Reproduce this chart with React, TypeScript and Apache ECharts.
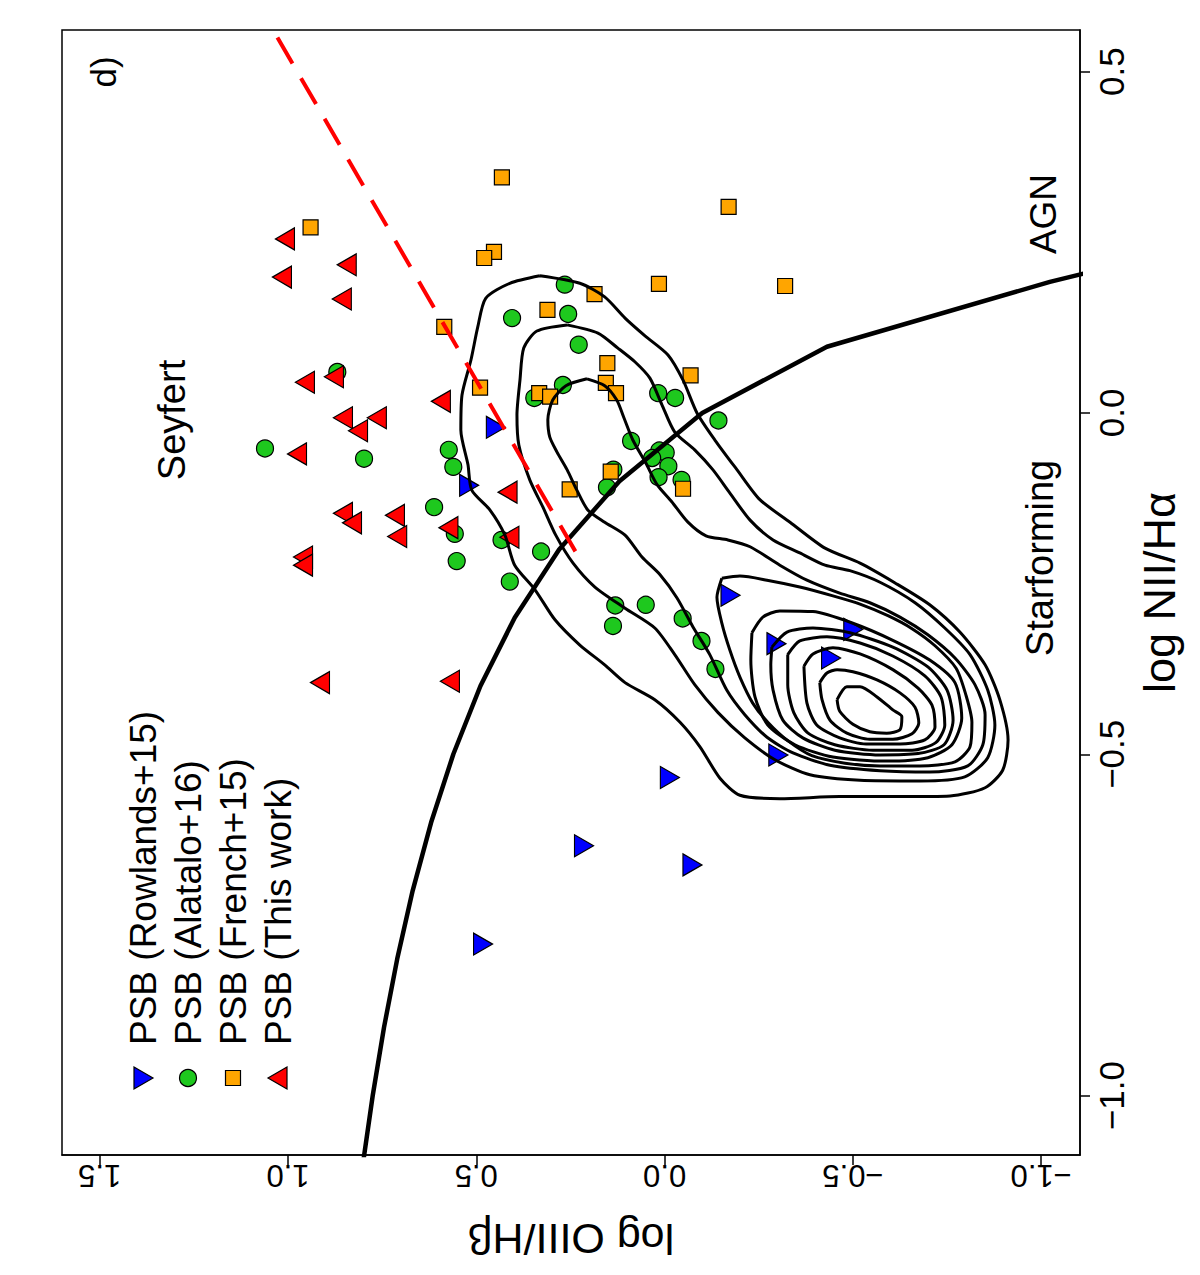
import React, { useEffect, useRef } from "react";
import * as echarts from "echarts";

const FONT = "'Liberation Sans', Arial, Helvetica, sans-serif";

// Axis ranges and ticks
const NII_MIN = -1.087;
const NII_MAX = 0.561;
const OIII_MIN = -1.103;
const OIII_MAX = 1.6;
const NII_TICKS = [-1, -0.5, 0, 0.5];
const OIII_TICKS = [-1, -0.5, 0, 0.5, 1, 1.5];

// Points: [log NII/Halpha, log OIII/Hbeta]
const rowlands = [
  [-0.021, 0.448], [-0.106, 0.519], [-0.267, -0.175], [-0.317, -0.501], [-0.338, -0.297],
  [-0.359, -0.442], [-0.501, -0.302], [-0.534, -0.014], [-0.634, 0.214], [-0.662, -0.074],
  [-0.778, 0.482],
];
const alatalo = [
  [-0.052, 1.061], [0.06, 0.869], [-0.067, 0.798], [-0.054, 0.573], [-0.079, 0.561],
  [-0.138, 0.612], [-0.177, 0.557], [-0.217, 0.552], [-0.186, 0.433], [-0.247, 0.411],
  [-0.203, 0.328], [0.139, 0.405], [0.188, 0.265], [0.145, 0.256], [0.1, 0.228],
  [0.041, 0.27], [0.022, 0.346], [0.029, 0.017], [0.022, -0.028], [-0.011, -0.143],
  [-0.041, 0.089], [-0.055, 0.014], [-0.058, -0.003], [-0.066, 0.033], [-0.078, -0.01],
  [-0.094, 0.016], [-0.098, -0.045], [-0.083, 0.136], [-0.109, 0.153], [-0.282, 0.131],
  [-0.281, 0.05], [-0.312, 0.137], [-0.301, -0.048], [-0.334, -0.098], [-0.375, -0.135],
];
const french = [
  [0.345, 0.432], [0.272, 0.94], [0.236, 0.453], [0.227, 0.479], [0.126, 0.585],
  [0.037, 0.49], [0.029, 0.333], [0.024, 0.304], [0.151, 0.311], [0.174, 0.186],
  [0.189, 0.015], [0.186, -0.32], [0.302, -0.17], [0.073, 0.152], [0.044, 0.156],
  [0.029, 0.129], [0.055, -0.069], [-0.086, 0.143], [-0.112, 0.252], [-0.111, -0.049],
];
const thisWork = [
  [0.255, 1.008], [0.199, 1.016], [0.217, 0.844], [0.167, 0.857], [0.045, 0.955],
  [0.053, 0.878], [0.017, 0.594], [-0.007, 0.854], [-0.007, 0.764], [-0.026, 0.814],
  [-0.06, 0.976], [-0.116, 0.417], [-0.147, 0.854], [-0.161, 0.83], [-0.15, 0.716],
  [-0.181, 0.71], [-0.168, 0.574], [-0.182, 0.412], [-0.211, 0.96], [-0.223, 0.96],
  [-0.395, 0.915], [-0.393, 0.57],
];

// Demarcation lines: [log NII/Halpha, log OIII/Hbeta]
const kewleyLine = [
  [-1.1, 0.801], [-1.0, 0.775], [-0.9, 0.745], [-0.8, 0.71], [-0.7, 0.669], [-0.6, 0.62],
  [-0.5, 0.561], [-0.4, 0.489], [-0.3, 0.398], [-0.2, 0.28], [-0.1, 0.12], [0.0, -0.1],
  [0.097, -0.431], [0.192, -1.023], [0.21, -1.156],
];
const seyfertLinerLine = [[0.55, 1.028], [-0.215, 0.224]];

// Density contours: [log NII/Halpha, log OIII/Hbeta]
const contour1 = [
  [0.201, 0.331], [0.19, 0.411], [0.168, 0.475], [0.126, 0.496], [0.078, 0.514], [0.026, 0.538],
  [-0.025, 0.541], [-0.076, 0.522], [-0.113, 0.512], [-0.142, 0.464], [-0.179, 0.424], [-0.223, 0.398],
  [-0.259, 0.344], [-0.303, 0.291], [-0.34, 0.225], [-0.369, 0.159], [-0.395, 0.105], [-0.42, 0.026],
  [-0.453, -0.041], [-0.489, -0.094], [-0.535, -0.147], [-0.56, -0.2], [-0.565, -0.306], [-0.562, -0.465],
  [-0.562, -0.625], [-0.561, -0.758], [-0.549, -0.851], [-0.523, -0.898], [-0.479, -0.912], [-0.42, -0.89],
  [-0.369, -0.851], [-0.321, -0.784], [-0.281, -0.704], [-0.249, -0.612], [-0.22, -0.519], [-0.198, -0.426],
  [-0.16, -0.333], [-0.127, -0.253], [-0.083, -0.192], [-0.04, -0.134], [0.0, -0.086], [0.048, -0.049],
  [0.085, -0.009], [0.113, 0.052], [0.139, 0.105], [0.17, 0.159], [0.19, 0.225], [0.201, 0.331],
];
const contour2 = [
  [0.129, 0.259], [0.12, 0.339], [0.095, 0.374], [0.048, 0.384], [-0.003, 0.392], [-0.047, 0.387],
  [-0.098, 0.358], [-0.138, 0.323], [-0.179, 0.289], [-0.22, 0.243], [-0.255, 0.185], [-0.286, 0.105],
  [-0.315, 0.026], [-0.354, -0.027], [-0.398, -0.08], [-0.439, -0.142], [-0.476, -0.213], [-0.508, -0.293],
  [-0.53, -0.386], [-0.538, -0.519], [-0.539, -0.678], [-0.533, -0.797], [-0.505, -0.858], [-0.457, -0.877],
  [-0.406, -0.858], [-0.354, -0.811], [-0.315, -0.744], [-0.278, -0.665], [-0.248, -0.572], [-0.231, -0.492],
  [-0.223, -0.426], [-0.205, -0.359], [-0.186, -0.288], [-0.157, -0.227], [-0.117, -0.173], [-0.083, -0.128],
  [-0.054, -0.08], [-0.028, -0.027], [0.012, 0.007], [0.051, 0.039], [0.075, 0.079], [0.095, 0.124],
  [0.117, 0.177], [0.129, 0.259],
];
const contour3 = [
  [0.05, 0.206], [0.04, 0.262], [0.019, 0.297], [-0.01, 0.31], [-0.035, 0.305], [-0.057, 0.286],
  [-0.083, 0.259], [-0.113, 0.233], [-0.142, 0.204], [-0.16, 0.159], [-0.179, 0.105], [-0.211, 0.06],
  [-0.237, 0.012], [-0.271, -0.033], [-0.313, -0.075], [-0.354, -0.12], [-0.406, -0.165], [-0.442, -0.213],
  [-0.475, -0.272], [-0.498, -0.341], [-0.516, -0.439], [-0.524, -0.572], [-0.526, -0.704], [-0.517, -0.805],
  [-0.486, -0.845], [-0.442, -0.851], [-0.398, -0.824], [-0.359, -0.771], [-0.325, -0.699], [-0.299, -0.625],
  [-0.278, -0.545], [-0.264, -0.465], [-0.245, -0.378], [-0.223, -0.306], [-0.196, -0.227], [-0.186, -0.168],
  [-0.18, -0.11], [-0.16, -0.062], [-0.13, -0.019], [-0.105, 0.02], [-0.073, 0.05], [-0.04, 0.084],
  [-0.007, 0.108], [0.019, 0.127], [0.04, 0.159], [0.05, 0.206],
];
const contour4 = [
  [-0.242, -0.152], [-0.27, -0.139], [-0.308, -0.152], [-0.347, -0.173], [-0.387, -0.2], [-0.425, -0.234],
  [-0.453, -0.274], [-0.48, -0.327], [-0.502, -0.391], [-0.513, -0.479], [-0.517, -0.572], [-0.517, -0.678],
  [-0.511, -0.771], [-0.489, -0.811], [-0.453, -0.816], [-0.413, -0.8], [-0.374, -0.774], [-0.341, -0.718],
  [-0.316, -0.657], [-0.297, -0.593], [-0.28, -0.519], [-0.268, -0.447], [-0.255, -0.359], [-0.245, -0.272],
  [-0.239, -0.2], [-0.242, -0.152],
];
const contour5 = [
  [-0.322, -0.232], [-0.299, -0.261], [-0.29, -0.306], [-0.291, -0.394], [-0.308, -0.5], [-0.333, -0.606],
  [-0.362, -0.704], [-0.395, -0.771], [-0.447, -0.789], [-0.486, -0.763], [-0.505, -0.699], [-0.51, -0.588],
  [-0.504, -0.447], [-0.486, -0.346], [-0.457, -0.274], [-0.416, -0.24], [-0.362, -0.229], [-0.322, -0.232],
];
const contour6 = [
  [-0.343, -0.285], [-0.321, -0.325], [-0.315, -0.394], [-0.322, -0.492], [-0.343, -0.606], [-0.372, -0.699],
  [-0.406, -0.75], [-0.45, -0.766], [-0.486, -0.742], [-0.499, -0.673], [-0.501, -0.572], [-0.494, -0.452],
  [-0.476, -0.367], [-0.45, -0.314], [-0.406, -0.288], [-0.369, -0.282], [-0.343, -0.285],
];
const contour7 = [
  [-0.354, -0.327], [-0.334, -0.359], [-0.328, -0.431], [-0.337, -0.519], [-0.356, -0.606], [-0.385, -0.691],
  [-0.416, -0.734], [-0.457, -0.744], [-0.483, -0.72], [-0.494, -0.657], [-0.494, -0.553], [-0.486, -0.452],
  [-0.469, -0.381], [-0.439, -0.343], [-0.398, -0.327], [-0.354, -0.327],
];
const contour8 = [
  [-0.371, -0.37], [-0.353, -0.394], [-0.344, -0.447], [-0.353, -0.519], [-0.376, -0.606], [-0.403, -0.673],
  [-0.428, -0.71], [-0.46, -0.718], [-0.479, -0.691], [-0.485, -0.625], [-0.485, -0.535], [-0.476, -0.465],
  [-0.457, -0.404], [-0.425, -0.378], [-0.371, -0.37],
];
const contour9 = [
  [-0.395, -0.412], [-0.381, -0.431], [-0.376, -0.458], [-0.379, -0.5], [-0.391, -0.564], [-0.41, -0.625],
  [-0.431, -0.665], [-0.454, -0.675], [-0.47, -0.657], [-0.478, -0.606], [-0.478, -0.545], [-0.469, -0.484],
  [-0.45, -0.439], [-0.42, -0.418], [-0.395, -0.412],
];
const contour10 = [
  [-0.42, -0.458], [-0.401, -0.484], [-0.401, -0.519], [-0.416, -0.564], [-0.435, -0.606], [-0.445, -0.63],
  [-0.464, -0.625], [-0.469, -0.59], [-0.467, -0.545], [-0.456, -0.5], [-0.437, -0.465], [-0.42, -0.458],
];
const contours = [contour1, contour2, contour3, contour4, contour5, contour6, contour7, contour8, contour9, contour10];

const legendNames = ["PSB (Rowlands+15)", "PSB (Alatalo+16)", "PSB (French+15)", "PSB (This work)"];
const colors = { blue: "#0000FF", green: "#1EC81E", orange: "#FFA500", red: "#FF0000" };

const RIGHT_TRI = "path://M0,0L19,11L0,22Z";
const LEFT_TRI = "path://M19,0L0,11L19,22Z";

// swap to [OIII, NII] since OIII runs along the horizontal axis in this rotated figure
const toXY = (pts: number[][]) => pts.map((p) => [p[1], p[0]]);
const fmt = (v: number) => (v < 0 ? "\u2212" : "") + Math.abs(v).toFixed(1);

export default function App() {
  const ref = useRef<HTMLDivElement>(null);

  useEffect(() => {
    if (!ref.current) return;
    const chart = echarts.init(ref.current, null, { renderer: "svg" });

    const scatterBase = {
      type: "scatter",
      z: 2,
      itemStyle: { borderColor: "#000", borderWidth: 1.2, opacity: 1 },
      emphasis: { disabled: true },
    };

    const series: any[] = [
      { ...scatterBase, name: legendNames[0], data: toXY(rowlands), symbol: RIGHT_TRI, symbolSize: [19, 22], itemStyle: { ...scatterBase.itemStyle, color: colors.blue } },
      { ...scatterBase, name: legendNames[1], data: toXY(alatalo), symbol: "circle", symbolSize: 17, itemStyle: { ...scatterBase.itemStyle, color: colors.green } },
      { ...scatterBase, name: legendNames[2], data: toXY(french), symbol: "rect", symbolSize: 15, itemStyle: { ...scatterBase.itemStyle, color: colors.orange } },
      { ...scatterBase, name: legendNames[3], data: toXY(thisWork), symbol: LEFT_TRI, symbolSize: [19, 22], itemStyle: { ...scatterBase.itemStyle, color: colors.red } },
    ];

    contours.forEach((c) => {
      series.push({
        type: "line",
        z: 3,
        data: toXY(c),
        symbol: "none",
        smooth: 0.25,
        silent: true,
        lineStyle: { color: "#000", width: 3 },
      });
    });

    series.push({
      type: "line",
      z: 4,
      data: toXY(kewleyLine),
      symbol: "none",
      silent: true,
      lineStyle: { color: "#000", width: 4.5 },
    });
    series.push({
      type: "line",
      z: 4,
      data: toXY(seyfertLinerLine),
      symbol: "none",
      silent: true,
      lineStyle: { color: "#FF0000", width: 4, type: [30, 17] },
    });

    const rotText = (text: string, x: number, y: number, size: number, align: string) => ({
      type: "text",
      x,
      y,
      rotation: Math.PI / 2,
      style: { text, fontSize: size, fontFamily: FONT, fill: "#000", align, verticalAlign: "middle" },
      z: 10,
    });

    const legendX = [143, 188, 233, 278];
    const legendY = 1078;
    const graphic: any[] = [
      rotText("d)", 103, 72, 35, "center"),
      rotText("Seyfert", 172, 420, 38, "center"),
      rotText("Starforming", 1040, 558, 38, "center"),
      rotText("AGN", 1043, 214, 37, "center"),
      ...legendNames.map((n, i) => rotText(n, legendX[i], 1045, 37, "left")),
      {
        type: "polygon",
        shape: { points: [[legendX[0] - 9, legendY - 11], [legendX[0] + 10, legendY], [legendX[0] - 9, legendY + 11]] },
        style: { fill: colors.blue, stroke: "#000", lineWidth: 1.2 },
      },
      {
        type: "circle",
        shape: { cx: legendX[1], cy: legendY, r: 8.5 },
        style: { fill: colors.green, stroke: "#000", lineWidth: 1.2 },
      },
      {
        type: "rect",
        shape: { x: legendX[2] - 7.5, y: legendY - 7.5, width: 15, height: 15 },
        style: { fill: colors.orange, stroke: "#000", lineWidth: 1.2 },
      },
      {
        type: "polygon",
        shape: { points: [[legendX[3] + 9, legendY - 11], [legendX[3] - 10, legendY], [legendX[3] + 9, legendY + 11]] },
        style: { fill: colors.red, stroke: "#000", lineWidth: 1.2 },
      },
    ];

    chart.setOption({
      animation: false,
      backgroundColor: "#fff",
      grid: {
        left: 62,
        top: 30,
        width: 1018,
        height: 1125,
        show: true,
        borderColor: "#000",
        borderWidth: 1.5,
        containLabel: false,
      },
      xAxis: {
        type: "value",
        min: OIII_MIN,
        max: OIII_MAX,
        inverse: true,
        position: "bottom",
        axisLine: { show: true, onZero: false, lineStyle: { color: "#000", width: 1.5 } },
        axisTick: { show: true, inside: false, length: 10, customValues: OIII_TICKS, lineStyle: { color: "#000", width: 1.5 } },
        axisLabel: {
          customValues: OIII_TICKS,
          rotate: 180,
          formatter: fmt,
          fontSize: 31,
          fontFamily: FONT,
          color: "#000",
          margin: 5,
        },
        splitLine: { show: false },
        name: "log OIII/H\u03B2",
        nameLocation: "middle",
        nameRotate: 180,
        nameGap: 62,
        nameTextStyle: { fontSize: 43, fontFamily: FONT, color: "#000" },
      },
      yAxis: {
        type: "value",
        min: NII_MIN,
        max: NII_MAX,
        position: "right",
        axisLine: { show: true, onZero: false, lineStyle: { color: "#000", width: 1.5 } },
        axisTick: { show: true, inside: false, length: 10, customValues: NII_TICKS, lineStyle: { color: "#000", width: 1.5 } },
        axisLabel: {
          customValues: NII_TICKS,
          rotate: 90,
          formatter: fmt,
          fontSize: 35,
          fontFamily: FONT,
          color: "#000",
          margin: 14,
        },
        splitLine: { show: false },
        name: "log NII/H\u03B1",
        nameLocation: "middle",
        nameRotate: 90,
        nameGap: 41,
        nameTextStyle: { fontSize: 45, fontFamily: FONT, color: "#000" },
      },
      series,
      graphic,
    });

    return () => chart.dispose();
  }, []);

  return <div ref={ref} style={{ position: "absolute", left: 0, top: 0, width: 1200, height: 1275 }} />;
}
